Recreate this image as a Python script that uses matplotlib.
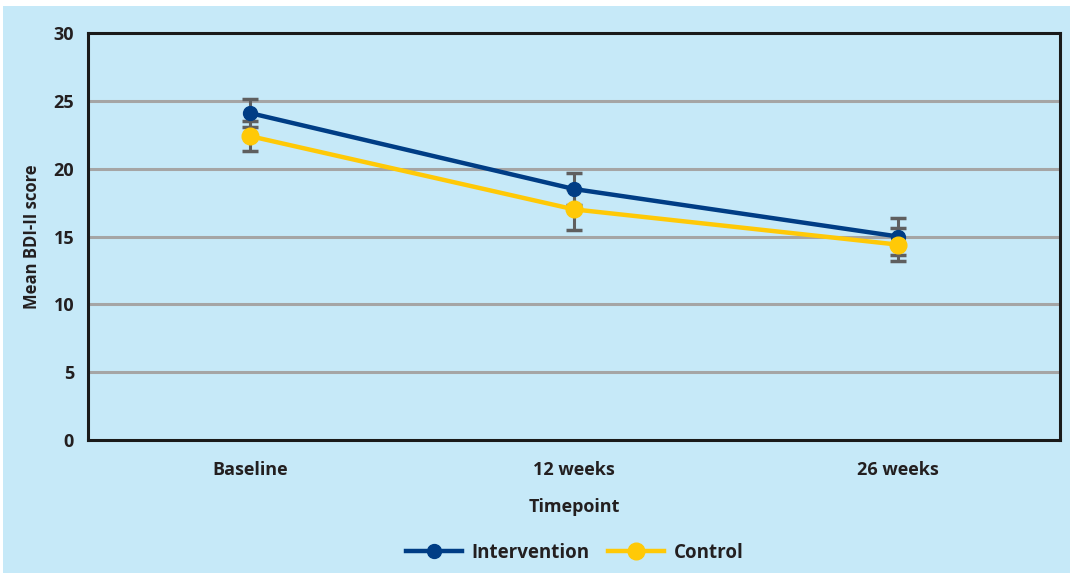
import matplotlib
matplotlib.use("Agg")
import matplotlib.pyplot as plt
from matplotlib.patches import Rectangle

categories = ["Baseline", "12 weeks", "26 weeks"]
intervention = [24.1, 18.5, 15.0]
intervention_err = [1.0, 1.2, 1.4]
control = [22.4, 17.0, 14.4]
control_err = [1.1, 1.5, 1.2]
yticks = [0, 5, 10, 15, 20, 25, 30]

plt.rcParams['font.family'] = ['Open Sans', 'DejaVu Sans']
plt.rcParams['font.weight'] = 'bold'

BG = "#c6e9f8"
BLUE = "#003d85"
YELLOW = "#ffc907"
ERR = "#5f5f5f"

fig = plt.figure(figsize=(10.7, 5.73), dpi=100)
fig.patch.set_facecolor("white")
fig.patches.append(Rectangle((3/1070, 0), 1 - 3/1070, 1 - 6/573, transform=fig.transFigure,
                             facecolor=BG, edgecolor="none", zorder=-10))

ax = fig.add_axes([88/1070, 1 - 440/573, (1060-88)/1070, (440-33)/573])
ax.set_facecolor(BG)
x = list(range(len(categories)))

for y in yticks[1:-1]:
    ax.axhline(y, color="#a5a5a5", lw=2.2, zorder=1)

ax.errorbar(x, intervention, yerr=intervention_err, fmt="none", ecolor=ERR,
            elinewidth=2.2, capsize=6, capthick=2.5, zorder=2)
ax.errorbar(x, control, yerr=control_err, fmt="none", ecolor=ERR,
            elinewidth=2.2, capsize=6, capthick=2.5, zorder=2)
ax.plot(x, intervention, color=BLUE, lw=3.2, marker="o", markersize=10,
        label="Intervention", zorder=3)
ax.plot(x, control, color=YELLOW, lw=3.2, marker="o", markersize=12,
        label="Control", zorder=4)

ax.set_xlim(-0.5, 2.5)
ax.set_ylim(0, 30)
ax.set_yticks(yticks)
ax.set_xticks(x)
ax.set_xticklabels(categories)
for s in ax.spines.values():
    s.set_linewidth(2.2)
    s.set_color("#1a1a1a")
ax.tick_params(axis="both", length=0, labelsize=13, colors="#231f20")
ax.tick_params(axis="x", pad=15)
ax.tick_params(axis="y", pad=10)
ax.set_xlabel("Timepoint", fontsize=13, fontweight="bold", color="#231f20", labelpad=14)
ax.set_ylabel("Mean BDI-II score", fontsize=12, fontweight="bold", color="#231f20", labelpad=9)

leg = fig.legend(loc="center", bbox_to_anchor=(0.537, 1 - 553/573), ncol=2, frameon=False,
                 fontsize=13.5, handlelength=3, columnspacing=1.0, handletextpad=0.5)
for t in leg.get_texts():
    t.set_color("#231f20")

fig.savefig("out.png", dpi=100, facecolor=fig.get_facecolor())
